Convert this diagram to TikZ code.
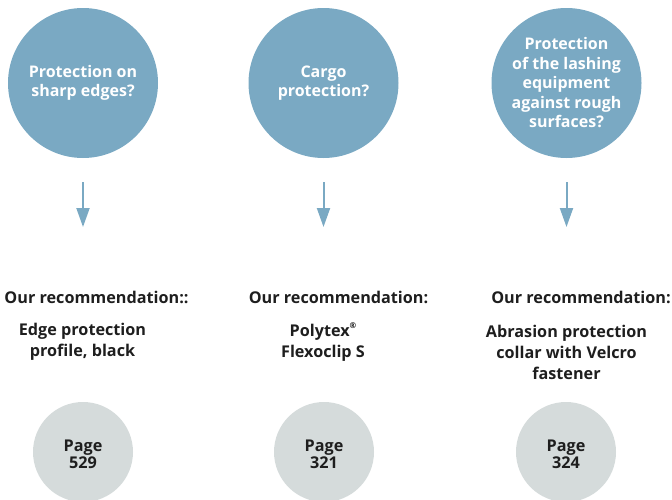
\documentclass[tikz,border=0pt]{standalone}
\usepackage{fontspec}
\setmainfont{Open Sans}[BoldFont={* Bold}]
\usetikzlibrary{arrows.meta}
\definecolor{qblue}{RGB}{122,169,195}
\definecolor{pgray}{RGB}{213,219,219}
\definecolor{txt}{RGB}{30,30,30}
\newcommand{\regmark}{\raisebox{0.55em}{\fontsize{8}{8}\selectfont ®}}
\tikzset{
  qcirc/.style={circle,fill=qblue,minimum size=150pt,inner sep=0pt,text=white,align=center,font=\bfseries\fontsize{16}{19.5}\selectfont},
  pcirc/.style={circle,fill=pgray,minimum size=100pt,inner sep=0pt},
  ptxt/.style={text=txt,inner sep=0pt,align=center,font=\bfseries\fontsize{16.2}{15.5}\selectfont},
  rec/.style={text=txt,inner sep=0pt,font=\bfseries\fontsize{16.2}{20}\selectfont},
  prod/.style={text=txt,inner sep=0pt,align=center,font=\bfseries\fontsize{16.2}{21}\selectfont},
  arr/.style={draw=qblue,line width=2pt,-{Triangle[width=13pt,length=19pt]}}
}
\begin{document}
\begin{tikzpicture}[x=1pt,y=-1pt]
\useasboundingbox (0,0) rectangle (672,499);
\node[qcirc] (q1) at (83,83) {Protection on\\sharp edges?};
\node[qcirc] (q2) at (323.5,83) {Cargo\\protection?};
\node[qcirc] (q3) at (566.5,83) {Protection\\of the lashing\\equipment\\against rough\\surfaces?};
\coordinate (a1s) at (83,182); \coordinate (a1e) at (83,227);
\coordinate (a2s) at (323.5,182); \coordinate (a2e) at (323.5,227);
\coordinate (a3s) at (566.5,182); \coordinate (a3e) at (566.5,227);
\draw[arr] (a1s) -- (a1e);
\draw[arr] (a2s) -- (a2e);
\draw[arr] (a3s) -- (a3e);
\node[rec] (r1) at (96.5,297) {Our recommendation::};
\node[rec] (r2) at (338.5,297) {Our recommendation:};
\node[rec] (r3) at (581,297) {Our recommendation:};
\node[prod] (p1) at (82.5,342) {Edge protection\\profile, black};
\node[prod] (p2) at (323,342) {Polytex\regmark\\Flexoclip S};
\node[prod] (p3) at (566.5,352) {Abrasion protection\\collar with Velcro\\fastener};
\node[pcirc] (g1) at (83,452) {};
\node[pcirc] (g2) at (324,452) {};
\node[pcirc] (g3) at (566,452) {};
\node[ptxt] (t1) at (83,454) {Page\\529};
\node[ptxt] (t2) at (324,454) {Page\\321};
\node[ptxt] (t3) at (566,454) {Page\\324};
\end{tikzpicture}
\end{document}
